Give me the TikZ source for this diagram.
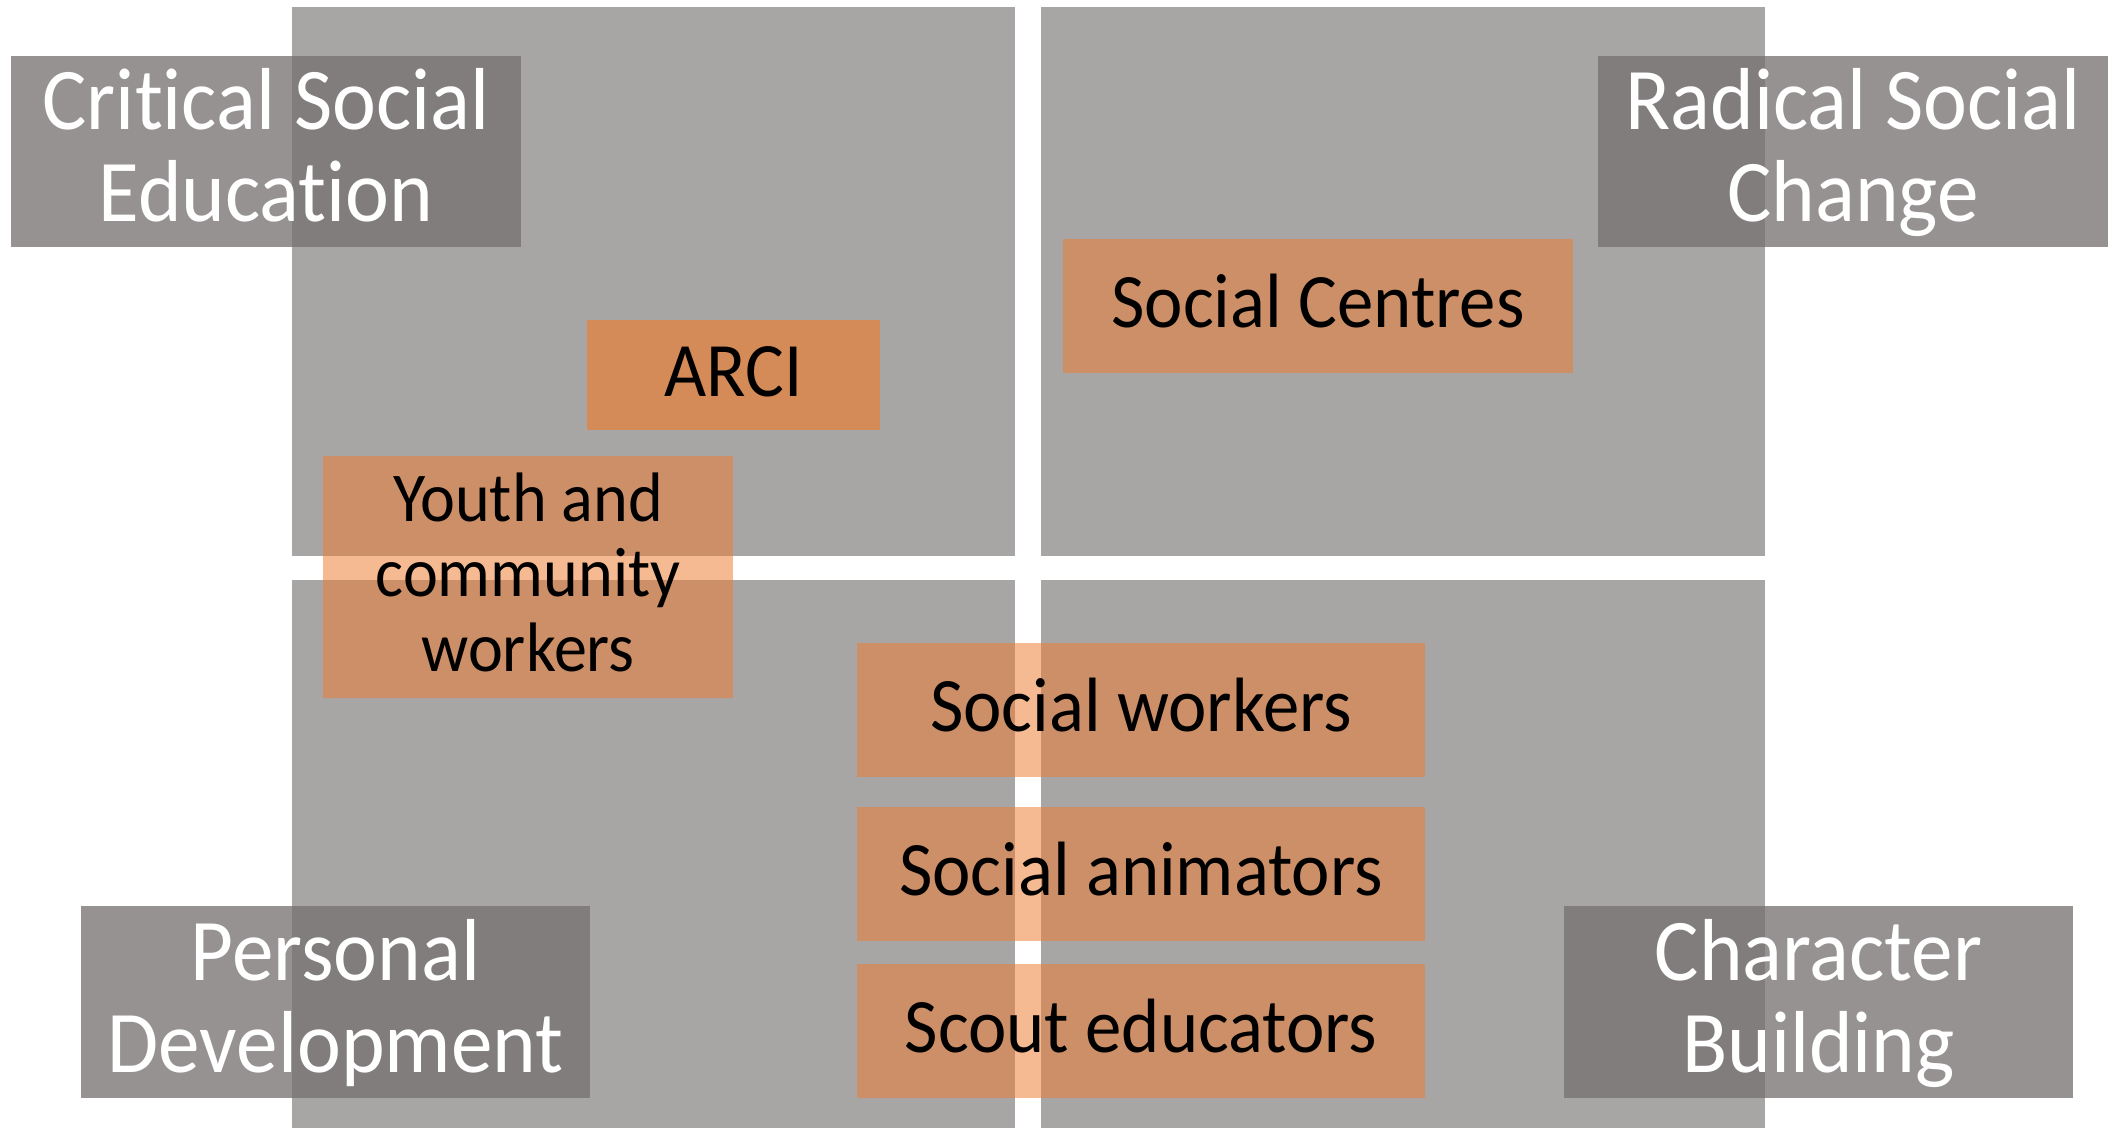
\documentclass[tikz,border=0pt]{standalone}
\usepackage{fontspec}
\setmainfont[FakeStretch=0.945,Ligatures=NoCommon]{Carlito}
\definecolor{qgray}{HTML}{767171}
\definecolor{orng}{HTML}{ED7D31}
\newcommand\lstr{\rule[-9.5pt]{0pt}{43.5pt}}
\newcommand\ostr{\rule[-6.7pt]{0pt}{34.7pt}}
\newcommand\ystr{\rule[-6.7pt]{0pt}{32.7pt}}
\begin{document}
\begin{tikzpicture}[x=0.5pt,y=-0.5pt,
  quad/.style={fill=qgray, fill opacity=0.63},
  labelbox/.style={fill=qgray, fill opacity=0.77, text opacity=1, text=white,
    inner sep=0pt, outer sep=0pt, align=center, font=\fontsize{44}{46}\selectfont},
  orbox/.style={fill=orng, fill opacity=0.53, text opacity=1, text=black,
    inner sep=0pt, outer sep=0pt, align=center, font=\fontsize{38.5}{40}\selectfont},
  ]
\useasboundingbox (0,0) rectangle (2108,1128);
% quadrants
\fill[quad] (292,7) rectangle (1015,556);
\fill[quad] (1041,7) rectangle (1765,556);
\fill[quad] (292,580) rectangle (1015,1128);
\fill[quad] (1041,580) rectangle (1765,1128);
% labels
\node[labelbox, minimum width=255pt, minimum height=95.5pt] (cse) at (266,151.5) {\lstr Critical Social\\\lstr Education};
\node[labelbox, minimum width=255pt, minimum height=95.5pt] (rsc) at (1853,151.5) {\lstr Radical Social\\\lstr Change};
\node[labelbox, minimum width=254.5pt, minimum height=96pt] (pd) at (335.5,1002) {\lstr Personal\\\lstr Development};
\node[labelbox, minimum width=254.5pt, minimum height=96pt] (cb) at (1818.5,1002) {\lstr Character\\\lstr Building};
% orange boxes
\node[orbox, fill opacity=0.66, minimum width=146.5pt, minimum height=55pt] (arci) at (733.5,375) {\ostr ARCI};
\node[orbox, minimum width=205pt, minimum height=121pt, font=\fontsize{35}{37.5}\selectfont] (ycw) at (528,577) {\ystr Youth and\\\ystr community\\\ystr workers};
\node[orbox, minimum width=255pt, minimum height=67pt] (sc) at (1318,306) {\ostr Social Centres};
\node[orbox, minimum width=284pt, minimum height=67pt] (sw) at (1141,710) {\ostr Social workers};
\node[orbox, minimum width=284pt, minimum height=67pt] (sa) at (1141,874) {\ostr Social animators};
\node[orbox, minimum width=284pt, minimum height=67pt] (se) at (1141,1031) {\ostr Scout educators};
\end{tikzpicture}
\end{document}
